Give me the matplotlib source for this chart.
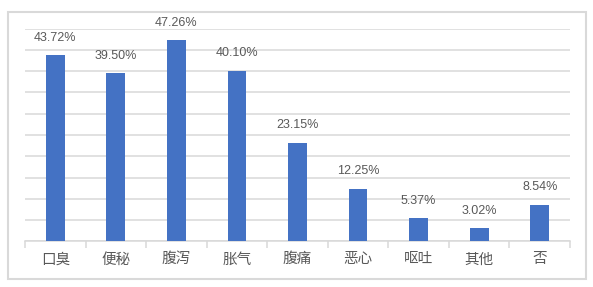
import matplotlib.pyplot as plt
from matplotlib.patches import Rectangle

plt.rcParams['font.family'] = ['Noto Sans CJK SC', 'DejaVu Sans']

categories = ["口臭", "便秘", "腹泻", "胀气", "腹痛", "恶心", "呕吐", "其他", "否"]
values = [43.72, 39.50, 47.26, 40.10, 23.15, 12.25, 5.37, 3.02, 8.54]

W, H = 593, 287
fig = plt.figure(figsize=(W / 100, H / 100), dpi=100)
ax = fig.add_axes([25 / W, 1 - 241.3 / H, (570 - 25) / W, (241.3 - 28.7) / H])

grid_c = "#D9D9D9"
text_c = "#595959"

x = list(range(len(categories)))
ax.bar(x, values, width=0.31, color="#4472C4", zorder=3)
for xi, v in zip(x, values):
    ax.annotate(f"{v:.2f}%", (xi, v), xytext=(0, 8.5), textcoords="offset points",
                ha="center", va="bottom", fontsize=9, color=text_c,
                family="Liberation Sans")

ax.set_xlim(-0.5, len(categories) - 0.5)
ax.set_ylim(0, 50)
ax.set_yticks(range(0, 51, 5))
ax.yaxis.grid(True, color=grid_c, linewidth=1.1, zorder=0)
ax.tick_params(axis="y", left=False, labelleft=False)

# category labels between boundary ticks
ax.set_xticks([i - 0.5 for i in range(len(categories) + 1)])
ax.set_xticklabels([])
ax.set_xticks(x, minor=True)
ax.set_xticklabels(categories, minor=True, fontsize=10.5, color=text_c)
ax.tick_params(axis="x", which="minor", length=0, pad=8)
ax.tick_params(axis="x", which="major", length=5, width=1.1, color=grid_c)

for side in ["top", "right", "left"]:
    ax.spines[side].set_visible(False)
ax.spines["bottom"].set_color(grid_c)
ax.spines["bottom"].set_linewidth(1.1)

# outer frame around the chart
fig.patches.append(Rectangle((8 / W, 1 - 279 / H), (586 - 8) / W, (279 - 12) / H,
                             transform=fig.transFigure, fill=False,
                             edgecolor=grid_c, linewidth=1.5))

fig.savefig("out.png", dpi=100)
